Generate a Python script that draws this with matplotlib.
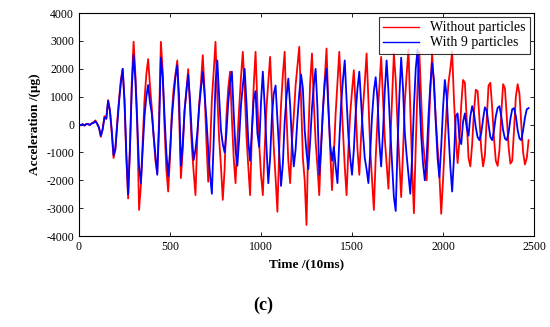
import numpy as np
import matplotlib
matplotlib.use("Agg")
import matplotlib.pyplot as plt

plt.rcParams['font.family'] = ['Liberation Serif', 'DejaVu Serif']
plt.rcParams['axes.unicode_minus'] = False

# sampled every 10 time units (10 values per row = 100 units)
time = np.arange(0, 2471, 10)

acc_without = [
    0, -30, 20, -40, 10, 30, -20, 50, 80, 150,
    40, -100, -440, -150, 300, 200, 880, 500, -300, -1200,
    -900, 100, 900, 1600, 2000, 800, -1200, -2650, -800, 1500,
    2970, 1800, 200, -3060, -2200, -600, 900, 1800, 2350, 1400,
    600, -400, -1300, -1740, 200, 2970, 1900, -100, -1600, -2400,
    -1200, 400, 1300, 1800, 2300, 400, -1920, -900, 500, 1200,
    1990, 600, -800, -1700, -2530, -500, 700, 1500, 2490, 1200,
    -600, -2050, -900, 900, 1900, 2970, 1000, -500, -1500, -2700,
    -1600, 300, 1300, 1900, 200, -1200, -2100, -600, 600, 1700,
    2610, 1300, -400, -1500, -2530, -300, 1400, 2610, 800, -700,
    -1800, -2530, -900, 600, 1500, 2430, 900, -800, -1900, -3125,
    -900, 700, 1800, 2610, 300, -1300, -2100, -600, 300, 1400,
    2100, 2790, 900, -1200, -2000, -3600, -400, 1500, 2550, 800,
    -600, -1500, -2530, -700, 500, 1600, 2730, 700, -900, -2350,
    -1100, 400, 1500, 2610, 1100, -200, -1500, -2530, -900, 400,
    1200, 1950, 600, -900, -1800, -400, 600, 1500, 2550, 900,
    -900, -2000, -3060, -1200, 200, 1300, 2430, 1000, -500, -1400,
    -2300, -700, 900, 2550, 1600, 0, -1300, -2600, -1000, 800,
    1800, 2700, 600, -1500, -3180, -800, 1400, 2600, 900, -600,
    -1300, -2000, -400, 1200, 2550, 1400, 200, -800, -1800, -3200,
    -2000, -600, 600, 1500, 2000, 2610, 900, -400, -1380, -600,
    700, 1600, 1500, 200, -1200, -1500, -700, 500, 1250, 1200,
    200, -900, -1500, -1100, 200, 1400, 1500, 600, -500, -1300,
    -1480, -900, 400, 1450, 1300, 300, -800, -1400, -1300, -200,
    1000, 1450, 1100, 0, -1000, -1430, -1200, -560,
]

acc_with9 = [
    0, -20, 10, -30, 20, 10, -10, 40, 60, 120,
    20, -120, -400, -180, 250, 220, 850, 500, -200, -1100,
    -850, 0, 800, 1500, 2000, 900, -1000, -2500, -900, 1300,
    2500, 1600, 0, -1500, -2100, -900, 300, 1000, 1420, 800,
    400, -400, -1100, -1800, -100, 2400, 1700, 300, -1000, -1850,
    -1000, 200, 1000, 1700, 2130, 1000, -1480, -700, 500, 1200,
    1790, 900, -400, -1270, -900, -300, 600, 1300, 1890, 1100,
    200, -900, -1800, -2480, -600, 1500, 2300, 1000, -200, -700,
    -1000, -300, 800, 1500, 1900, 400, -900, -1480, -500, 700,
    1400, 2000, 800, -600, -1300, -200, 900, 1200, -300, -800,
    800, 1900, 700, -800, -2100, -1200, 300, 1100, 1400, 200,
    -1000, -2200, -1400, 100, 1000, 1650, 700, -600, -1500, -900,
    200, 1100, 1800, 1300, -200, -1000, -1600, -600, 600, 1400,
    2000, 600, -1800, -900, 500, 1500, 2000, 600, -700, -1300,
    -800, -1500, -2100, -600, 700, 1600, 2300, 900, -400, -1200,
    -1800, -900, 400, 1300, 1900, 800, -300, -1200, -1600, -2100,
    -1000, 300, 1200, 1700, 900, -600, -1500, -300, 1200, 2300,
    1200, -200, -1400, -2600, -3100, -800, 1000, 2400, 1300, -300,
    -1100, -1800, -2480, -1200, 600, 2000, 2700, 1100, -400, -1400,
    -2000, -1200, 300, 1400, 2200, 1600, 100, -1200, -1900, -800,
    600, 1600, 1000, -300, -1500, -2400, -1200, 300, 400, -500,
    -700, 100, 400, -100, -400, 300, 660, 400, -100, -450,
    -560, -300, 200, 620, 500, 0, -450, -560, -200, 300,
    600, 660, 300, -200, -500, -560, -300, 200, 550, 590,
    300, -200, -500, -560, -200, 250, 550, 590,
]

fig = plt.figure(figsize=(5.5, 3.27), dpi=100)
ax = fig.add_axes([0.1436, 0.278, 0.8274, 0.682])

ax.plot(time, acc_without, color='#ff0000', lw=1.3, label='Without particles')
ax.plot(time, acc_with9, color='#0000ff', lw=1.3, label='With 9 particles')

ax.set_xlim(0, 2500)
ax.set_ylim(-4000, 4000)
ax.set_xticks(np.arange(0, 2501, 500))
ax.set_yticks(np.arange(-4000, 4001, 1000))
ax.tick_params(direction='in', top=True, right=True, labelsize=8.5, length=3, width=0.6)
for s in ax.spines.values():
    s.set_linewidth(0.8)

ax.set_xlabel('Time /(10ms)', fontsize=9.5, fontweight='bold', labelpad=4)
ax.set_ylabel('Acceleration /(μg)', fontsize=9.5, fontweight='bold', labelpad=4)

leg = ax.legend(loc='upper right', fontsize=10, frameon=True, fancybox=False,
                edgecolor='black', handlelength=2.6, borderpad=0.3,
                labelspacing=0.15, borderaxespad=0.3)
leg.get_frame().set_linewidth(0.8)
for h in leg.get_lines():
    h.set_linewidth(1.0)

fig.text(0.478, 0.065, '(c)', fontsize=13, fontweight='bold', ha='center', va='center')

fig.savefig('out.png', dpi=100)
